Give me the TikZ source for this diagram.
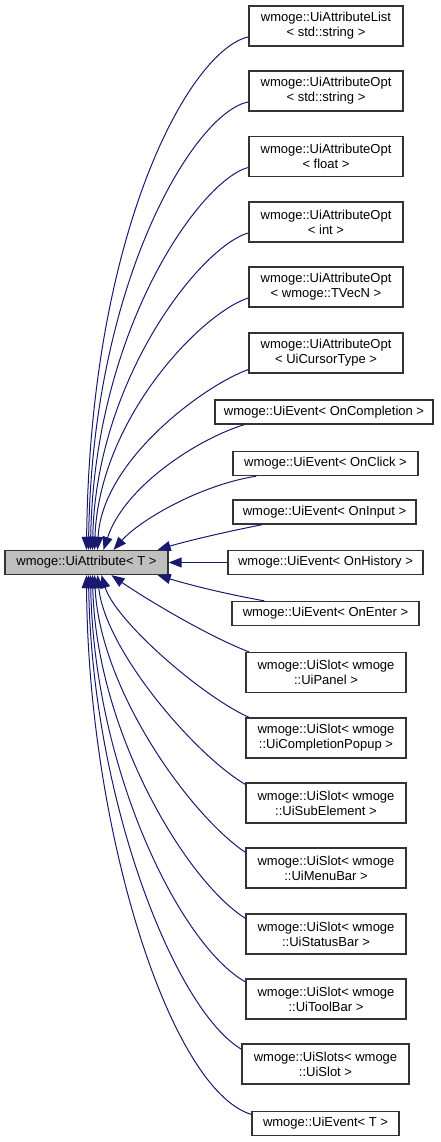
\documentclass[tikz,border=0pt]{standalone}
\usepackage{fontspec}
\setmainfont{Liberation Sans}
\usetikzlibrary{arrows.meta}
\definecolor{edgeblue}{RGB}{25,25,112}
\definecolor{basegray}{RGB}{191,191,191}

\begin{document}
\begin{tikzpicture}[x=1pt, y=-1pt,
    cls/.style={draw=black!80, line width=1.3pt, fill=white, align=center,
        font=\fontsize{13}{15}\selectfont, inner sep=0pt, minimum height=40pt},
    one/.style={cls, minimum height=24pt},
    inh/.style={draw=edgeblue, line width=1pt, -{Triangle[length=13pt,width=10pt]}}]
    \useasboundingbox (0,0) rectangle (441,1142);

    % base class
    \node[one, fill=basegray, minimum width=163pt] (root) at (86.5,562.5) {wmoge::UiAttribute< T >};

    % derived classes
    \node[cls, minimum width=154pt] (l1) at (326,26) {wmoge::UiAttributeList\\< std::string >};
    \node[cls, minimum width=154pt] (o1) at (326,91) {wmoge::UiAttributeOpt\\< std::string >};
    \node[cls, minimum width=154pt] (o2) at (326,156.5) {wmoge::UiAttributeOpt\\< float >};
    \node[cls, minimum width=154pt] (o3) at (326,222) {wmoge::UiAttributeOpt\\< int >};
    \node[cls, minimum width=154pt] (o4) at (326,287) {wmoge::UiAttributeOpt\\< wmoge::TVecN >};
    \node[cls, minimum width=154pt] (o5) at (326,353) {wmoge::UiAttributeOpt\\< UiCursorType >};
    \node[one, minimum width=218pt] (ev1) at (324,412) {wmoge::UiEvent< OnCompletion >};
    \node[one, minimum width=185pt] (ev2) at (325.5,463.5) {wmoge::UiEvent< OnClick >};
    \node[one, minimum width=183pt] (ev3) at (324.5,512) {wmoge::UiEvent< OnInput >};
    \node[one, minimum width=195pt] (ev4) at (325.5,562.5) {wmoge::UiEvent< OnHistory >};
    \node[one, minimum width=187pt] (ev5) at (325.5,613.5) {wmoge::UiEvent< OnEnter >};
    \node[cls, minimum width=160pt] (sl1) at (326,672.5) {wmoge::UiSlot< wmoge\\::UiPanel >};
    \node[cls, minimum width=160pt] (sl2) at (326,738) {wmoge::UiSlot< wmoge\\::UiCompletionPopup >};
    \node[cls, minimum width=160pt] (sl3) at (326,803) {wmoge::UiSlot< wmoge\\::UiSubElement >};
    \node[cls, minimum width=160pt] (sl4) at (326,868) {wmoge::UiSlot< wmoge\\::UiMenuBar >};
    \node[cls, minimum width=160pt] (sl5) at (326,934) {wmoge::UiSlot< wmoge\\::UiStatusBar >};
    \node[cls, minimum width=160pt] (sl6) at (326,999) {wmoge::UiSlot< wmoge\\::UiToolBar >};
    \node[cls, minimum width=167pt] (sls) at (325.5,1064) {wmoge::UiSlots< wmoge\\::UiSlot >};
    \node[one, minimum width=147pt] (ev6) at (325.5,1123.5) {wmoge::UiEvent< T >};

    % inheritance edges, upper half
    \draw[inh] (l1.188) .. controls (190,50) and (90,230) .. (root.north);
    \draw[inh] (o1.188) .. controls (195,112) and (92,280) .. ([xshift=2pt]root.north);
    \draw[inh] (o2.188) .. controls (200,180) and (94,330) .. ([xshift=4pt]root.north);
    \draw[inh] (o3.188) .. controls (200,247) and (96,380) .. ([xshift=6pt]root.north);
    \draw[inh] (o4.188) .. controls (200,314) and (99,420) .. ([xshift=8pt]root.north);
    \draw[inh] (o5.192) .. controls (205,385) and (102,460) .. ([xshift=11pt]root.north);
    \draw[inh] ([xshift=30pt]ev1.south west) .. controls (200,438) and (125,485) .. ([xshift=17pt]root.north);
    \draw[inh] ([xshift=24pt]ev2.south west) .. controls (200,485) and (140,520) .. ([xshift=27pt]root.north);
    \draw[inh] ([xshift=30pt]ev3.south west) .. controls (215,534) and (180,543) .. ([xshift=-11pt]root.north east);
    \draw[inh] (ev4.west) -- (root.east);

    % inheritance edges, lower half
    \draw[inh] ([xshift=33pt]ev5.north west) .. controls (215,592) and (180,582) .. ([xshift=-11pt]root.south east);
    \draw[inh] (sl1.165) .. controls (205,635) and (140,595) .. ([xshift=25pt]root.south);
    \draw[inh] (sl2.165) .. controls (200,695) and (115,620) .. ([xshift=15pt]root.south);
    \draw[inh] (sl3.167) .. controls (195,755) and (105,650) .. ([xshift=11pt]root.south);
    \draw[inh] (sl4.169) .. controls (190,815) and (100,690) .. ([xshift=8pt]root.south);
    \draw[inh] (sl5.169) .. controls (185,880) and (96,730) .. ([xshift=6pt]root.south);
    \draw[inh] (sl6.168) .. controls (180,945) and (94,770) .. ([xshift=4pt]root.south);
    \draw[inh] (sls.170) .. controls (175,1010) and (92,800) .. ([xshift=2pt]root.south);
    \draw[inh] (ev6.173) .. controls (170,1090) and (88,830) .. (root.south);
\end{tikzpicture}
\end{document}
